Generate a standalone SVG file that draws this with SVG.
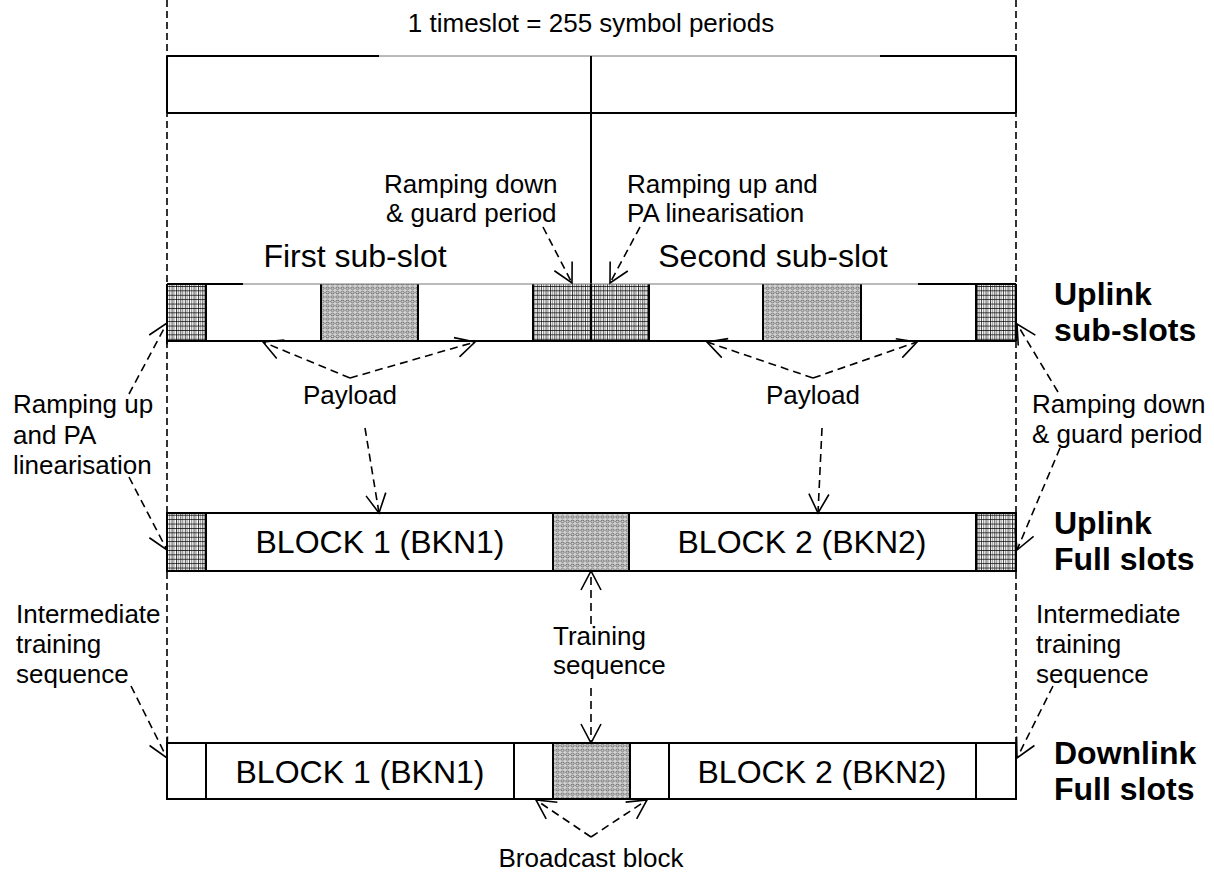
<svg xmlns="http://www.w3.org/2000/svg" width="1214" height="872" viewBox="0 0 1214 872">
<style>
text{font-family:"Liberation Sans",Arial,sans-serif;fill:#000}
.lbl{font-size:26px}
.big{font-size:32px}
.bold{font-size:32px;font-weight:bold}
.edge{stroke:#000;stroke-width:2;fill:none}
.thin{stroke:#777;stroke-width:1;fill:none}
.guide{stroke:#000;stroke-width:1.6;stroke-dasharray:7,4;fill:none}
.conn{stroke:#000;stroke-width:1.6;stroke-dasharray:8,5;fill:none;marker-end:url(#ah)}
.w{fill:#fff}
.h{fill:url(#hatch)}
.d{fill:url(#dots)}
</style>
<defs>
<pattern id="hatch" patternUnits="userSpaceOnUse" width="4.4" height="4.4">
<rect width="4.4" height="4.4" fill="#fff"/>
<rect x="0" y="0" width="0.7" height="4.4" fill="#000"/>
<rect x="2.2" y="0" width="0.6" height="4.4" fill="#222"/>
<rect x="0" y="0" width="4.4" height="0.7" fill="#000"/>
</pattern>
<pattern id="dots" patternUnits="userSpaceOnUse" width="5" height="4.4">
<rect width="5" height="4.4" fill="#d2d2d2"/>
<ellipse cx="2.5" cy="2.2" rx="1.7" ry="1.2" fill="none" stroke="#555" stroke-width="0.8"/>
</pattern>
<marker id="ah" markerUnits="userSpaceOnUse" markerWidth="30" markerHeight="30" viewBox="-25 -15 30 30" refX="0" refY="0" orient="auto">
<path d="M-19,-10 L0,0 L-19,10" fill="none" stroke="#000" stroke-width="1.6" stroke-dasharray="none"/>
</marker>
</defs>

<g id="guides">
<line class="guide" x1="167" y1="0" x2="167" y2="743"/>
<line class="guide" x1="1016" y1="0" x2="1016" y2="743"/>
</g>

<g id="timeslot">
<rect class="w" x="167" y="56" width="849" height="57"/>
<path class="edge" d="M167,56 H379 M880,56 H1016 M167,113 H1016 M167,56 V113 M1016,56 V113"/>
<path class="thin" d="M379,56 H880"/>
<line class="edge" x1="591" y1="56" x2="591" y2="341"/>
<text class="lbl" x="591" y="32" text-anchor="middle">1 timeslot = 255 symbol periods</text>
</g>

<g id="uplink-subslots">
<rect class="h" x="167" y="284" width="39" height="57"/>
<rect class="w" x="206" y="284" width="115" height="57"/>
<rect class="d" x="321" y="284" width="97" height="57"/>
<rect class="w" x="418" y="284" width="115" height="57"/>
<rect class="h" x="533" y="284" width="116" height="57"/>
<rect class="w" x="649" y="284" width="114" height="57"/>
<rect class="d" x="763" y="284" width="98" height="57"/>
<rect class="w" x="861" y="284" width="115" height="57"/>
<rect class="h" x="976" y="284" width="40" height="57"/>
<path class="edge" d="M167,284 H243 M918,284 H1016 M167,341 H1016 M167,284 V341 M206,284 V341 M321,284 V341 M418,284 V341 M533,284 V341 M649,284 V341 M763,284 V341 M861,284 V341 M976,284 V341 M1016,284 V341"/>
<path class="thin" d="M243,284 H918"/>
<line class="edge" x1="591" y1="284" x2="591" y2="341"/>
<text class="big" x="355" y="267" text-anchor="middle">First sub-slot</text>
<text class="big" x="773" y="267" text-anchor="middle">Second sub-slot</text>
<text class="bold" x="1054" y="305">Uplink</text>
<text class="bold" x="1054" y="341">sub-slots</text>
</g>

<g id="uplink-full">
<rect class="h" x="167" y="513" width="39" height="58"/>
<rect class="w" x="206" y="513" width="347" height="58"/>
<rect class="d" x="553" y="513" width="76" height="58"/>
<rect class="w" x="629" y="513" width="347" height="58"/>
<rect class="h" x="976" y="513" width="40" height="58"/>
<path class="edge" d="M167,513 H1016 V571 H167 Z M206,513 V571 M553,513 V571 M629,513 V571 M976,513 V571"/>
<text class="big" x="380" y="553" text-anchor="middle">BLOCK 1 (BKN1)</text>
<text class="big" x="802" y="553" text-anchor="middle">BLOCK 2 (BKN2)</text>
<text class="bold" x="1054" y="534">Uplink</text>
<text class="bold" x="1054" y="570">Full slots</text>
</g>

<g id="downlink-full">
<rect class="w" x="167" y="743" width="849" height="56"/>
<rect class="d" x="553" y="743" width="77" height="56"/>
<path class="edge" d="M167,743 H1016 V799 H167 Z M206,743 V799 M514,743 V799 M553,743 V799 M630,743 V799 M669,743 V799 M976,743 V799"/>
<text class="big" x="360" y="783" text-anchor="middle">BLOCK 1 (BKN1)</text>
<text class="big" x="822" y="783" text-anchor="middle">BLOCK 2 (BKN2)</text>
<text class="bold" x="1054" y="764">Downlink</text>
<text class="bold" x="1054" y="800">Full slots</text>
</g>

<g id="label-rampdown-mid">
<text class="lbl" x="384" y="193">Ramping down</text>
<text class="lbl" x="386" y="222">&amp; guard period</text>
</g>
<g id="label-rampup-mid">
<text class="lbl" x="627" y="193">Ramping up and</text>
<text class="lbl" x="627" y="222">PA linearisation</text>
</g>
<g id="label-rampup-left">
<text class="lbl" x="13" y="413">Ramping up</text>
<text class="lbl" x="13" y="444">and PA</text>
<text class="lbl" x="13" y="474">linearisation</text>
</g>
<g id="label-rampdown-right">
<text class="lbl" x="1032" y="413">Ramping down</text>
<text class="lbl" x="1032" y="443">&amp; guard period</text>
</g>
<g id="label-payload-1"><text class="lbl" x="350" y="404" text-anchor="middle">Payload</text></g>
<g id="label-payload-2"><text class="lbl" x="813" y="404" text-anchor="middle">Payload</text></g>
<g id="label-its-left">
<text class="lbl" x="16" y="623">Intermediate</text>
<text class="lbl" x="16" y="653">training</text>
<text class="lbl" x="16" y="683">sequence</text>
</g>
<g id="label-its-right">
<text class="lbl" x="1036" y="623">Intermediate</text>
<text class="lbl" x="1036" y="653">training</text>
<text class="lbl" x="1036" y="683">sequence</text>
</g>
<g id="label-training">
<text class="lbl" x="553" y="645">Training</text>
<text class="lbl" x="553" y="674">sequence</text>
</g>
<g id="label-broadcast"><text class="lbl" x="591" y="867" text-anchor="middle">Broadcast block</text></g>

<g id="connectors">
<line class="conn" x1="543" y1="227" x2="572" y2="283"/>
<line class="conn" x1="640" y1="227" x2="610" y2="283"/>
<line class="conn" x1="129" y1="394" x2="167" y2="323"/>
<line class="conn" x1="129" y1="477" x2="167" y2="550"/>
<line class="conn" x1="1058" y1="392" x2="1017" y2="324"/>
<line class="conn" x1="1060" y1="448" x2="1017" y2="550"/>
<line class="conn" x1="350" y1="378" x2="263" y2="342"/>
<line class="conn" x1="350" y1="378" x2="475" y2="342"/>
<line class="conn" x1="813" y1="378" x2="707" y2="342"/>
<line class="conn" x1="813" y1="378" x2="917" y2="342"/>
<line class="conn" x1="365" y1="428" x2="379" y2="513"/>
<line class="conn" x1="822" y1="428" x2="818" y2="513"/>
<line class="conn" x1="591" y1="624" x2="591" y2="571"/>
<line class="conn" x1="591" y1="688" x2="591" y2="743"/>
<line class="conn" x1="131" y1="686" x2="167" y2="758"/>
<line class="conn" x1="1053" y1="686" x2="1017" y2="758"/>
<line class="conn" x1="591" y1="837" x2="536" y2="800"/>
<line class="conn" x1="591" y1="837" x2="647" y2="800"/>
</g>
</svg>
